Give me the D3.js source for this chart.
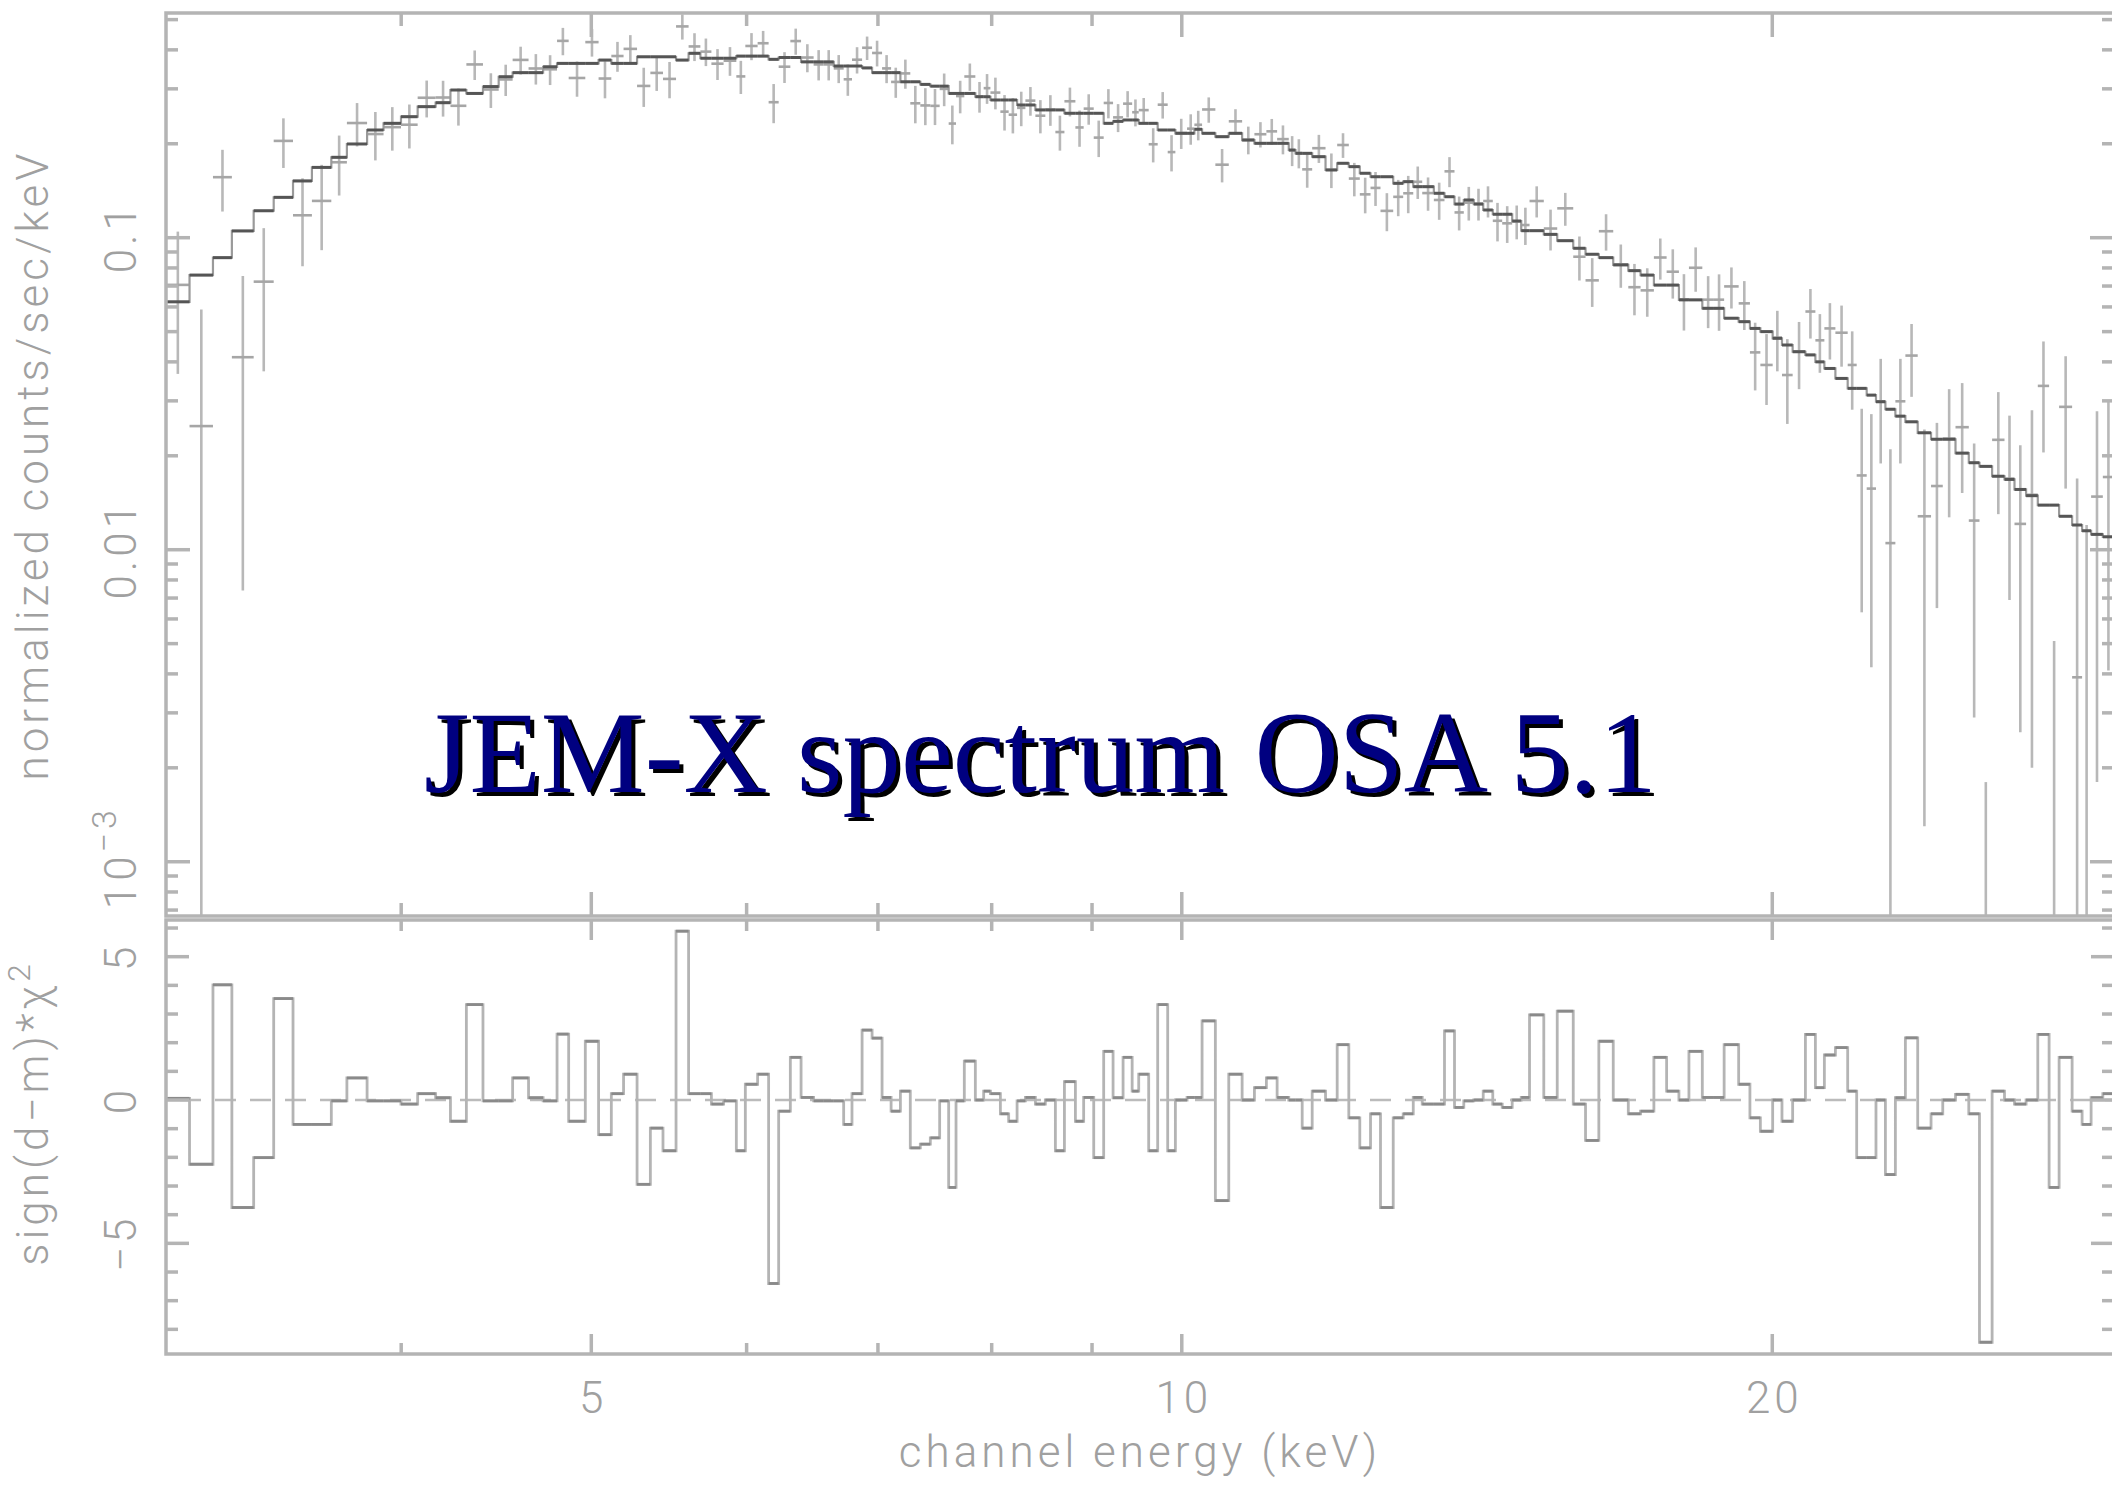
<!DOCTYPE html>
<html>
<head>
<meta charset="utf-8">
<script src="https://cdn.jsdelivr.net/npm/d3@7"></script>
<style>
  html, body { margin: 0; padding: 0; background: #fff; }
  svg { display: block; }
  .lbl { font-family: Roboto, "DejaVu Sans", sans-serif; font-weight: 300; fill: #a0a0a0; letter-spacing: 4px; }
</style>
</head>
<body>
<div id="chart"></div>
<script>
// channel energy bin edges (keV)
const binEdges = [
  3.035, 3.120, 3.207, 3.279, 3.364, 3.444, 3.523, 3.602, 3.685, 3.753, 3.843, 3.918, 3.999, 4.078, 4.165, 4.238, 4.318, 4.403, 4.485, 4.559, 4.645, 4.725, 4.803,
  4.869, 4.965, 5.043, 5.119, 5.193, 5.276, 5.359, 5.439, 5.523, 5.605, 5.683, 5.757, 5.840, 5.928, 5.991, 6.078, 6.157, 6.230, 6.316, 6.396,
  6.491, 6.568, 6.646, 6.724, 6.790, 6.871, 6.952, 7.034, 7.109, 7.187, 7.271, 7.357, 7.444, 7.526, 7.606,
  7.672, 7.747, 7.848, 7.925, 7.988, 8.082, 8.161, 8.242, 8.323, 8.421, 8.520, 8.621, 8.713, 8.826, 8.912, 9.018, 9.124, 9.225, 9.334, 9.434,
  9.507, 9.619, 9.721, 9.836, 9.925, 10.062, 10.149, 10.241, 10.402, 10.567, 10.734, 10.890, 11.044, 11.184, 11.338, 11.428, 11.518, 11.654, 11.838, 12.001,
  12.166, 12.324, 12.480, 12.627, 12.817, 12.968, 13.122, 13.261, 13.443, 13.612, 13.773, 13.924, 14.088, 14.245, 14.406, 14.566, 14.738, 14.895, 15.041, 15.295,
  15.538, 15.833, 16.063, 16.316, 16.594, 16.890, 17.135, 17.405, 17.667, 17.924, 18.136, 18.423, 18.676, 18.901,
  19.226, 19.482, 19.722, 20.009, 20.229, 20.484, 20.793, 21.038, 21.261, 21.538, 21.851, 22.083, 22.344, 22.589, 22.840, 23.109, 23.382, 23.723, 24.097, 24.431,
  24.799, 25.189, 25.507, 25.888, 26.267, 26.577, 26.941, 27.314, 27.679, 28.006, 28.437, 28.772, 29.078, 29.481, 29.870
];

// folded model, counts/sec/keV
const model = [
  0.0623, 0.0759, 0.0863, 0.1051, 0.122, 0.1347, 0.152, 0.168, 0.181, 0.1997,
  0.2214, 0.2326, 0.2442, 0.263, 0.2708, 0.2974, 0.290, 0.305, 0.328, 0.338,
  0.338, 0.353, 0.362, 0.362, 0.362, 0.371, 0.362, 0.362, 0.380, 0.380,
  0.380, 0.371, 0.390, 0.376, 0.376, 0.376, 0.382, 0.382, 0.382, 0.373,
  0.378, 0.378, 0.366, 0.366, 0.366, 0.355, 0.355, 0.355, 0.350, 0.338,
  0.338, 0.338, 0.316, 0.316, 0.310, 0.306, 0.306, 0.290, 0.290, 0.290,
  0.283, 0.283, 0.2763, 0.2763, 0.2763, 0.2663, 0.2663, 0.2567, 0.2567, 0.2567,
  0.2505, 0.2505, 0.2505, 0.2505, 0.2326, 0.236, 0.2384, 0.2384, 0.2326, 0.2326,
  0.2214, 0.2214, 0.2161, 0.2161, 0.2226, 0.2161, 0.2107, 0.2161, 0.2056, 0.2007,
  0.2007, 0.2007, 0.1910, 0.1864, 0.1864, 0.1818, 0.1648, 0.1732, 0.1689, 0.1609,
  0.1568, 0.1568, 0.1494, 0.1512, 0.1457, 0.1457, 0.1388, 0.1353, 0.1282, 0.1321,
  0.1282, 0.1227, 0.1189, 0.1189, 0.1131, 0.1053, 0.1053, 0.1025, 0.0978, 0.0925,
  0.0885, 0.0863, 0.0818, 0.0784, 0.0759, 0.0705, 0.0705, 0.0632, 0.0632, 0.0594,
  0.0594, 0.0552, 0.0538, 0.0512, 0.0500, 0.0476, 0.0453, 0.0431, 0.0421, 0.0400,
  0.0381, 0.0354, 0.0329, 0.0329, 0.0313, 0.0298, 0.0282, 0.0268, 0.0257, 0.0237,
  0.0226, 0.0226, 0.0204, 0.0190, 0.0185, 0.0172, 0.0168, 0.0156, 0.0149, 0.0139,
  0.0139, 0.0128, 0.0120, 0.0115, 0.0112, 0.0110
];

// measured spectrum, counts/sec/keV
const counts = [
  0.0706, 0.0249, 0.1563, 0.0414, 0.0723, 0.2043, 0.118, 0.1312, 0.1745, 0.2331,
  0.2149, 0.2261, 0.2302, 0.2809, 0.2814, 0.2647, 0.3592, 0.2985, 0.3215, 0.3714,
  0.3486, 0.3465, 0.4274, 0.325, 0.4235, 0.3237, 0.3822, 0.4029, 0.3065, 0.3374,
  0.3228, 0.4755, 0.4102, 0.3948, 0.3612, 0.3692, 0.3288, 0.4116, 0.420, 0.2718,
  0.3532, 0.4268, 0.378, 0.3592, 0.3592, 0.3489, 0.3219, 0.3719, 0.4062, 0.3909,
  0.3488, 0.3157, 0.3362, 0.2696, 0.2654, 0.2646, 0.2999, 0.2322, 0.2844, 0.3286,
  0.2836, 0.3015, 0.2918, 0.2535, 0.2479, 0.2607, 0.275, 0.246, 0.2573, 0.2181,
  0.2737, 0.2256, 0.2592, 0.2093, 0.2703, 0.243, 0.2689, 0.2524, 0.2564, 0.1993,
  0.2669, 0.1881, 0.2165, 0.2236, 0.2301, 0.2576, 0.1714, 0.2361, 0.2060, 0.2146,
  0.2192, 0.207, 0.1906, 0.1868, 0.1656, 0.1936, 0.1652, 0.1982, 0.1547, 0.1377,
  0.1444, 0.1219, 0.1352, 0.1388, 0.1511, 0.139, 0.1321, 0.1632, 0.1205, 0.1295,
  0.1285, 0.1311, 0.1133, 0.1112, 0.1128, 0.1098, 0.1311, 0.107, 0.1242, 0.0869,
  0.073, 0.1049, 0.0821, 0.0694, 0.0678, 0.0864, 0.0778, 0.0634, 0.0801, 0.0633,
  0.0633, 0.0698, 0.0616, 0.0429, 0.0391, 0.0478, 0.0363, 0.0432, 0.058, 0.0469,
  0.0512, 0.0496, 0.0391, 0.0173, 0.0157, 0.0299, 0.0105, 0.0299, 0.0419, 0.0128,
  0.016, 0.0227, 0.0247, 0.0124, -0.0069, 0.0225, 0.0169, 0.0121, 0.0150, 0.0335,
  -0.0089, 0.0287, 0.0039, -0.0005, 0.0148, 0.0171
];

// 1-sigma errors on the counts
const errors = [
  0.034, 0.034, 0.035, 0.034, 0.035, 0.037, 0.037, 0.040, 0.038, 0.037,
  0.038, 0.036, 0.037, 0.038, 0.037, 0.036, 0.039, 0.038, 0.037, 0.038,
  0.039, 0.038, 0.043, 0.042, 0.043, 0.044, 0.042, 0.043, 0.044, 0.042,
  0.043, 0.044, 0.042, 0.040, 0.041, 0.039, 0.040, 0.041, 0.040, 0.039,
  0.040, 0.041, 0.039, 0.040, 0.040, 0.036, 0.037, 0.036, 0.035, 0.037,
  0.036, 0.035, 0.036, 0.037, 0.036, 0.035, 0.036, 0.033, 0.034, 0.033,
  0.032, 0.033, 0.034, 0.033, 0.032, 0.033, 0.029, 0.030, 0.029, 0.028,
  0.029, 0.030, 0.029, 0.028, 0.029, 0.025, 0.026, 0.025, 0.024, 0.025,
  0.026, 0.025, 0.024, 0.025, 0.025, 0.024, 0.021, 0.022, 0.021, 0.020,
  0.021, 0.022, 0.021, 0.020, 0.021, 0.020, 0.021, 0.018, 0.019, 0.018,
  0.018, 0.017, 0.018, 0.019, 0.018, 0.017, 0.018, 0.018, 0.015, 0.016,
  0.015, 0.015, 0.016, 0.015, 0.014, 0.015, 0.015, 0.016, 0.015, 0.014,
  0.013, 0.014, 0.013, 0.013, 0.012, 0.013, 0.014, 0.013, 0.013, 0.012,
  0.013, 0.0105, 0.011, 0.0105, 0.0100, 0.0105, 0.011, 0.0105, 0.0105, 0.0100,
  0.0105, 0.011, 0.011, 0.011, 0.0115, 0.011, 0.0105, 0.011, 0.011, 0.0115,
  0.0095, 0.0100, 0.0095, 0.0095, 0.0087, 0.0095, 0.0100, 0.0095, 0.013, 0.013,
  0.014, 0.013, 0.013, 0.0125, 0.013, 0.013
];

// sign(d-m)*chi^2 per channel
const residuals = [
  0.06, -2.24, 4.02, -3.75, -2.01, 3.54, -0.85, -0.85, -0.03, 0.77,
  -0.03, -0.03, -0.14, 0.22, 0.08, -0.74, 3.33, -0.03, -0.03, 0.77,
  0.08, -0.03, 2.30, -0.74, 2.05, -1.21, 0.22, 0.90, -2.94, -0.98,
  -1.77, 5.89, 0.22, 0.22, -0.14, -0.03, -1.77, 0.55, 0.90, -6.40,
  -0.39, 1.49, 0.09, -0.03, -0.03, -0.03, -0.85, 0.22, 2.44, 2.16,
  0.09, -0.39, 0.31, -1.67, -1.54, -1.32, -0.03, -3.05, -0.03, 1.36,
  0, 0.31, 0.22, -0.48, -0.74, -0.03, 0.09, -0.14, 0, -1.77,
  0.64, -0.74, 0.09, -2.01, 1.70, 0.08, 1.49, 0.31, 0.90, -1.77,
  3.33, -1.77, 0, 0.09, 0.09, 2.76, -3.51, 0.90, 0, 0.43,
  0.77, 0.09, 0, 0, -0.98, 0.31, 0, 1.93, -0.62, -1.67,
  -0.48, -3.75, -0.62, -0.48, 0.09, -0.14, -0.14, 2.41, -0.26, -0.03,
  0, 0.31, -0.14, -0.26, 0, 0.09, 2.97, 0.09, 3.10, -0.14,
  -1.41, 2.05, 0, -0.48, -0.39, 1.49, 0.31, 0, 1.70, 0.09,
  0.09, 1.93, 0.55, -0.62, -1.09, 0, -0.74, 0, 2.29, 0.43,
  1.57, 1.83, 0.31, -2.01, -2.01, 0, -2.60, 0.08, 2.17, -0.98,
  -0.48, 0, 0.20, -0.48, -8.45, 0.31, 0, -0.14, 0, 2.29,
  -3.05, 1.49, -0.39, -0.85, 0.08, 0.22
];

// axis ticks
const xMajorTicks = [5, 10, 20];
const xMinorTicks = [4, 6, 7, 8, 9];
const residTicks = d3.range(-8, 7);
const residMajor = [-5, 0, 5];

const W = 2112, H = 1485;
const left = 166, right = 2114;
const upTop = 13, upBottom = 916, loTop = 920, loBottom = 1354;
const axisColor = '#b4b4b4';

const x = d3.scaleLog().domain([3.035, 29.87]).range([left, right]);
const y = d3.scaleLog().domain([6.7e-4, 0.525]).range([upBottom, upTop]);
const yr = d3.scaleLinear().domain([-8.86, 6.28]).range([loBottom, loTop]);

const bins = model.map((m, i) => ({
  e0: binEdges[i], e1: binEdges[i + 1], m: m,
  d: counts[i], s: errors[i], r: residuals[i]
}));

const svg = d3.select('#chart').append('svg')
  .attr('width', W).attr('height', H)
  .attr('viewBox', `0 0 ${W} ${H}`);

svg.append('rect').attr('width', W).attr('height', H).attr('fill', '#fff');

const defs = svg.append('defs');
defs.append('clipPath').attr('id', 'clipUp').append('rect')
  .attr('x', left).attr('y', upTop).attr('width', right - left).attr('height', upBottom - upTop);
defs.append('clipPath').attr('id', 'clipLo').append('rect')
  .attr('x', left).attr('y', loTop).attr('width', right - left).attr('height', loBottom - loTop);

// ---- upper panel: data crosses
const up = svg.append('g').attr('clip-path', 'url(#clipUp)');
const [yMin, yMax] = y.domain();

bins.forEach(b => {
  const xc = x((b.e0 + b.e1) / 2);
  const hi = b.d + b.s, lo = b.d - b.s;
  if (hi > yMin) {
    up.append('line')
      .attr('x1', xc).attr('x2', xc)
      .attr('y1', y(Math.min(hi, yMax)))
      .attr('y2', lo > yMin ? y(lo) : upBottom + 5)
      .attr('stroke', '#b8b8b8').attr('stroke-width', 2.6);
  }
  if (b.d > yMin) {
    up.append('line')
      .attr('x1', x(b.e0)).attr('x2', x(b.e1))
      .attr('y1', y(b.d)).attr('y2', y(b.d))
      .attr('stroke', '#a6a6a6').attr('stroke-width', 2.6);
  }
});

// model histogram
const stepPts = [];
bins.forEach(b => { stepPts.push([x(b.e0), y(b.m)]); stepPts.push([x(b.e1), y(b.m)]); });
up.append('path')
  .attr('d', d3.line()(stepPts))
  .attr('fill', 'none').attr('stroke', '#9a9a9a').attr('stroke-width', 2.2);
bins.forEach(b => {
  up.append('line')
    .attr('x1', x(b.e0)).attr('x2', x(b.e1))
    .attr('y1', y(b.m)).attr('y2', y(b.m))
    .attr('stroke', '#555').attr('stroke-width', 3);
});

// ---- lower panel: residuals
const lo = svg.append('g').attr('clip-path', 'url(#clipLo)');
lo.append('line')
  .attr('x1', left).attr('x2', right)
  .attr('y1', yr(0)).attr('y2', yr(0))
  .attr('stroke', '#bbb').attr('stroke-width', 2.5)
  .attr('stroke-dasharray', '21 14').attr('stroke-dashoffset', -14);

const resPts = [];
bins.forEach(b => { resPts.push([x(b.e0), yr(b.r)]); resPts.push([x(b.e1), yr(b.r)]); });
lo.append('path')
  .attr('d', d3.line()(resPts))
  .attr('fill', 'none').attr('stroke', '#b4b4b4').attr('stroke-width', 2.8);
bins.forEach(b => {
  lo.append('line')
    .attr('x1', x(b.e0)).attr('x2', x(b.e1))
    .attr('y1', yr(b.r)).attr('y2', yr(b.r))
    .attr('stroke', '#8a8a8a').attr('stroke-width', 2.8);
});

// ---- axes
const ax = svg.append('g').attr('stroke', axisColor).attr('stroke-width', 3.5);

function frame(top, bottom) {
  ax.append('rect').attr('x', left).attr('y', top)
    .attr('width', right - left).attr('height', bottom - top).attr('fill', 'none');
}
frame(upTop, upBottom);
frame(loTop, loBottom);

function xTicks(top, bottom, major, minor) {
  xMajorTicks.forEach(v => {
    ax.append('line').attr('x1', x(v)).attr('x2', x(v)).attr('y1', top).attr('y2', top + major);
    ax.append('line').attr('x1', x(v)).attr('x2', x(v)).attr('y1', bottom).attr('y2', bottom - major);
  });
  xMinorTicks.forEach(v => {
    ax.append('line').attr('x1', x(v)).attr('x2', x(v)).attr('y1', top).attr('y2', top + minor);
    ax.append('line').attr('x1', x(v)).attr('x2', x(v)).attr('y1', bottom).attr('y2', bottom - minor);
  });
}
xTicks(upTop, upBottom, 24, 13);
xTicks(loTop, loBottom, 20, 11);

// log ticks upper panel
const yLogTicks = [];
[0.0001, 0.001, 0.01, 0.1].forEach(dec => {
  for (let k = 1; k <= 9; k++) yLogTicks.push({ v: dec * k, major: k === 1 });
});
yLogTicks.filter(t => t.v >= yMin && t.v <= yMax).forEach(t => {
  const len = t.major ? 24 : 12;
  ax.append('line').attr('x1', left).attr('x2', left + len).attr('y1', y(t.v)).attr('y2', y(t.v));
  ax.append('line').attr('x1', right).attr('x2', right - len).attr('y1', y(t.v)).attr('y2', y(t.v));
});

residTicks.forEach(v => {
  const len = residMajor.includes(v) ? 23 : 12;
  ax.append('line').attr('x1', left).attr('x2', left + len).attr('y1', yr(v)).attr('y2', yr(v));
  ax.append('line').attr('x1', right).attr('x2', right - len).attr('y1', yr(v)).attr('y2', yr(v));
});

// ---- labels
const fs = 44;
function vlabel(xb, yc, txt, size) {
  return svg.append('text').attr('class', 'lbl')
    .attr('transform', `translate(${xb},${yc}) rotate(-90)`)
    .attr('text-anchor', 'middle').attr('font-size', size || fs).text(txt);
}
vlabel(136, y(0.1), '0.1');
vlabel(136, y(0.01), '0.01');
const e3 = svg.append('text').attr('class', 'lbl')
  .attr('transform', `translate(136,${y(0.001) - 4}) rotate(-90)`)
  .attr('text-anchor', 'middle').attr('font-size', fs);
e3.append('tspan').text('10');
e3.append('tspan').attr('dy', -20).attr('font-size', 34).text('\u22123');

residMajor.forEach(v => vlabel(136, yr(v), v < 0 ? '\u2212' + Math.abs(v) : String(v)));

xMajorTicks.forEach(v => {
  svg.append('text').attr('class', 'lbl')
    .attr('x', x(v) + 2).attr('y', 1413).attr('text-anchor', 'middle')
    .attr('font-size', fs).text(v);
});

svg.append('text').attr('class', 'lbl')
  .attr('x', 1140).attr('y', 1467).attr('text-anchor', 'middle')
  .attr('font-size', fs).text('channel energy (keV)');

vlabel(48, 465, 'normalized counts/sec/keV');
const rl = svg.append('text').attr('class', 'lbl')
  .attr('transform', `translate(48,1113) rotate(-90)`)
  .attr('text-anchor', 'middle').attr('font-size', fs);
rl.append('tspan').text('sign(d\u2212m)*\u03c7');
rl.append('tspan').attr('dy', -18).attr('font-size', 32).text('2');

// ---- title overlay
const titleText = 'JEM-X spectrum OSA 5.1';
const tx = 424, ty = 792, tw = 1233;
const shadow = svg.append('text')
  .attr('x', tx + 4).attr('y', ty + 4)
  .attr('font-family', '"Liberation Serif", "Times New Roman", serif')
  .attr('font-size', 122).attr('fill', '#000').text(titleText);
const title = svg.append('text')
  .attr('x', tx).attr('y', ty)
  .attr('font-family', '"Liberation Serif", "Times New Roman", serif')
  .attr('font-size', 122).attr('fill', '#000080').text(titleText);
const len = title.node().getComputedTextLength();
const fsTitle = 122 * tw / len;
title.attr('font-size', fsTitle);
shadow.attr('font-size', fsTitle);
</script>
</body>
</html>
